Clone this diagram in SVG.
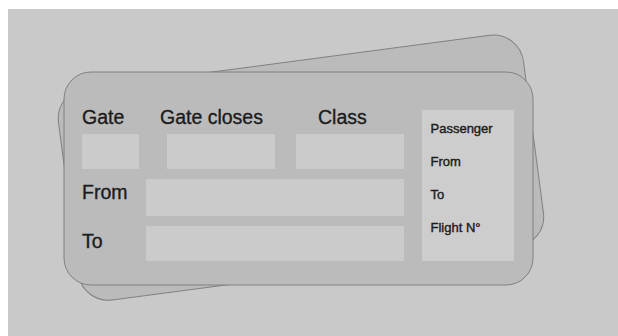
<svg xmlns="http://www.w3.org/2000/svg" width="618" height="336" viewBox="0 0 618 336">
  <style>
    .card { fill: #bbbbbb; stroke: #808080; stroke-width: 1; }
    .field { fill: #cbcbcb; }
    .panel { fill: #cdcdcd; }
    .lbl { font-family: "Liberation Sans", Arial, sans-serif; font-size: 19.5px; fill: #1c1c1c; stroke: #1c1c1c; stroke-width: 0.35; }
    .small { font-family: "Liberation Sans", Arial, sans-serif; font-size: 13px; fill: #1c1c1c; stroke: #1c1c1c; stroke-width: 0.4; }
  </style>
  <!-- page -->
  <rect x="0" y="0" width="618" height="336" fill="#ffffff"/>
  <rect x="8" y="9" width="610" height="327" fill="#c9c9c9"/>

  <!-- ticket lying underneath, tilted -->
  <g id="ticket-back">
    <rect class="card" x="42" y="99" width="469" height="213" rx="30" ry="30" transform="rotate(-7.5)"/>
  </g>

  <!-- ticket on top -->
  <g id="ticket-front">
    <rect class="card" x="64" y="72" width="469" height="213" rx="27" ry="27"/>

    <g id="gate">
      <text class="lbl" x="82" y="124">Gate</text>
      <rect class="field" x="82" y="134" width="57" height="35"/>
    </g>
    <g id="gate-closes">
      <text class="lbl" x="160" y="124">Gate closes</text>
      <rect class="field" x="167" y="134" width="108" height="35"/>
    </g>
    <g id="class">
      <text class="lbl" x="318" y="124">Class</text>
      <rect class="field" x="296" y="134" width="108" height="35"/>
    </g>
    <g id="from">
      <text class="lbl" x="82" y="199">From</text>
      <rect class="field" x="146" y="179" width="258" height="37"/>
    </g>
    <g id="to">
      <text class="lbl" x="82" y="248">To</text>
      <rect class="field" x="146" y="226" width="258" height="35"/>
    </g>

    <g id="stub">
      <rect class="panel" x="422" y="110" width="92" height="151"/>
      <text class="small" x="430.5" y="132.5">Passenger</text>
      <text class="small" x="430.5" y="165.5">From</text>
      <text class="small" x="430.5" y="198.5">To</text>
      <text class="small" x="430.5" y="232">Flight N°</text>
    </g>
  </g>
</svg>
